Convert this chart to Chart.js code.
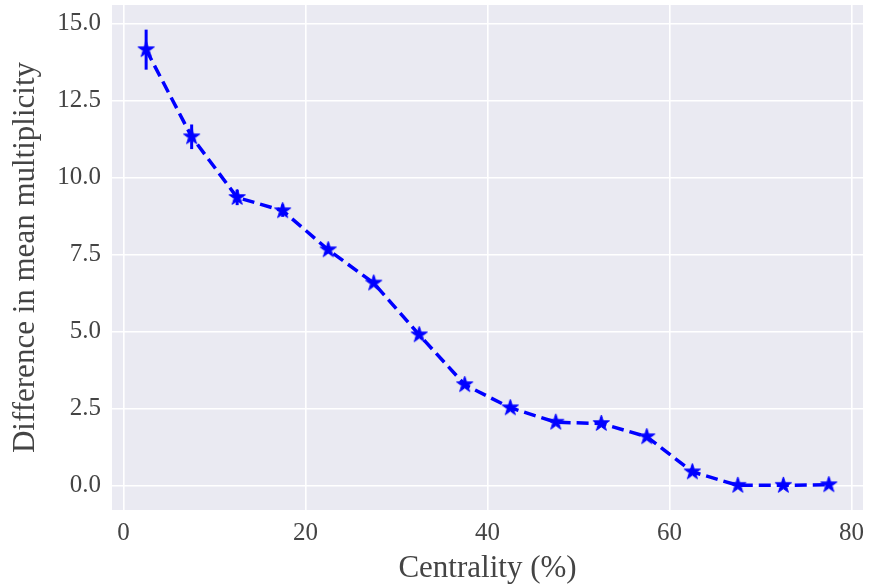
<!DOCTYPE html>
<html>
<head>
<meta charset="utf-8">
<script src="https://cdn.jsdelivr.net/npm/chart.js@4"></script>
<style>
  html, body { margin: 0; padding: 0; background: #fff; }
</style>
</head>
<body>
<canvas id="chart" width="871" height="586"></canvas>
<script>
const centrality = [2.5, 7.5, 12.5, 17.5, 22.5, 27.5, 32.5, 37.5, 42.5, 47.5, 52.5, 57.5, 62.5, 67.5, 72.5, 77.5];
const diffMult = [14.15, 11.32, 9.35, 8.92, 7.65, 6.57, 4.89, 3.27, 2.52, 2.05, 2.01, 1.58, 0.44, 0.0, 0.0, 0.02];
const diffErr = [0.65, 0.4, 0.25, 0.2, 0.12, 0.1, 0.08, 0.07, 0.06, 0.05, 0.05, 0.05, 0.04, 0.02, 0.02, 0.02];
const xTicks = [0, 20, 40, 60, 80];
const yTicks = [0, 2.5, 5, 7.5, 10, 12.5, 15];

const serif = "'Liberation Serif', 'DejaVu Serif', serif";

// filled five point star like matplotlib's '*' marker
function makeStar(r, color) {
    const c = document.createElement('canvas');
    const size = Math.ceil(r * 2 + 2);
    c.width = size;
    c.height = size;
    const g = c.getContext('2d');
    const inner = r * 0.381966;
    g.beginPath();
    for (let i = 0; i < 10; i++) {
        const rad = i % 2 === 0 ? r : inner;
        const a = -Math.PI / 2 + i * Math.PI / 5;
        const px = size / 2 + rad * Math.cos(a);
        const py = size / 2 + rad * Math.sin(a);
        if (i === 0) g.moveTo(px, py); else g.lineTo(px, py);
    }
    g.closePath();
    g.fillStyle = color;
    g.fill();
    g.lineWidth = 1;
    g.strokeStyle = color;
    g.stroke();
    return c;
}
const star = makeStar(8.5, '#0000ff');

const plotBackground = {
    id: 'plotBackground',
    beforeDraw(chart) {
        const { ctx, chartArea } = chart;
        ctx.save();
        ctx.fillStyle = '#eaeaf2';
        ctx.fillRect(chartArea.left, chartArea.top, chartArea.width, chartArea.height);
        ctx.restore();
    }
};

const errorBars = {
    id: 'errorBars',
    beforeDatasetsDraw(chart) {
        const { ctx, scales } = chart;
        ctx.save();
        ctx.strokeStyle = '#0000ff';
        ctx.lineWidth = 3;
        centrality.forEach((c, i) => {
            const px = scales.x.getPixelForValue(c);
            ctx.beginPath();
            ctx.moveTo(px, scales.y.getPixelForValue(diffMult[i] - diffErr[i]));
            ctx.lineTo(px, scales.y.getPixelForValue(diffMult[i] + diffErr[i]));
            ctx.stroke();
        });
        ctx.restore();
    }
};

new Chart(document.getElementById('chart'), {
    type: 'line',
    data: {
        datasets: [{
            data: centrality.map((c, i) => ({ x: c, y: diffMult[i] })),
            borderColor: '#0000ff',
            borderWidth: 3.5,
            borderDash: [12, 6],
            pointStyle: star,
            pointRadius: 8,
            tension: 0,
            fill: false
        }]
    },
    plugins: [plotBackground, errorBars],
    options: {
        responsive: false,
        animation: false,
        layout: { autoPadding: false, padding: { top: 5, right: 8, left: 0, bottom: 0 } },
        plugins: { legend: { display: false }, tooltip: { enabled: false } },
        scales: {
            x: {
                type: 'linear',
                min: -1.25,
                max: 81.25,
                afterBuildTicks: scale => { scale.ticks = xTicks.map(v => ({ value: v })); },
                afterFit: scale => {
                    scale.height = 76;
                    scale.paddingLeft = 0;
                    scale.paddingRight = 0;
                },
                border: { display: false },
                grid: { color: '#ffffff', lineWidth: 1.6, drawTicks: false },
                ticks: {
                    padding: 8,
                    color: '#444',
                    font: { family: serif, size: 25 }
                },
                title: {
                    display: true,
                    text: 'Centrality (%)',
                    color: '#444',
                    font: { family: serif, size: 31, lineHeight: 1 },
                    padding: { top: 0, bottom: 2 }
                }
            },
            y: {
                min: -0.8,
                max: 15.6,
                afterBuildTicks: scale => { scale.ticks = yTicks.map(v => ({ value: v })); },
                afterFit: scale => {
                    scale.width = 112;
                    scale.paddingTop = 0;
                    scale.paddingBottom = 0;
                },
                border: { display: false },
                grid: { color: '#ffffff', lineWidth: 1.6, drawTicks: false },
                ticks: {
                    padding: 11,
                    color: '#444',
                    font: { family: serif, size: 25 },
                    callback: v => v.toFixed(1)
                },
                title: {
                    display: true,
                    text: 'Difference in mean multiplicity',
                    color: '#444',
                    font: { family: serif, size: 31, lineHeight: 1 },
                    padding: { top: 10, bottom: 0 }
                }
            }
        }
    }
});
</script>
</body>
</html>
